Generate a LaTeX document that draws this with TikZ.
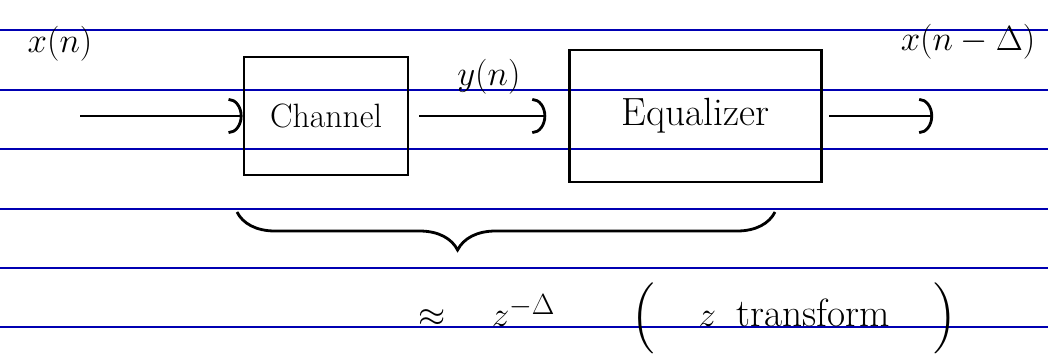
\documentclass[tikz,border=0pt]{standalone}
\usepackage{amsmath,amssymb}
\usetikzlibrary{arrows.meta,positioning,decorations.pathreplacing}
\begin{document}
\begin{tikzpicture}[x=0.025cm, y=-0.025cm, font=\fontsize{24}{28}\selectfont, line width=2pt]
\tikzstyle{box}=[draw, inner sep=3mm, align=center]
\tikzstyle{rule}=[draw=blue!70!black, line width=1.3pt]
\tikzstyle{flow}=[-{Arc Barb[length=3.5mm, width=9mm]}]
\useasboundingbox (0,0) rectangle (1048,356);
% ruled paper
\foreach \y in {30,90,149,209,268,327} \draw[rule] (0,\y) -- (1048,\y);
\node[box, minimum width=4.1cm, minimum height=2.95cm] (channel) at (326,116) {\fontsize{24}{28}\selectfont Channel};
\node[box, minimum width=6.3cm, minimum height=3.3cm, right=3.97cm of channel] (equalizer) {\fontsize{28}{32}\selectfont Equalizer};
\coordinate (in) at (80,116);
\coordinate[right=2.75cm of equalizer] (out);
\node[font=\fontsize{30}{34}\selectfont] (xn) at (60,44) {$x(n)$};
\node[font=\fontsize{26}{30}\selectfont] (xd) at (968,42) {$x(n-\Delta)$};
\draw[flow] (in) -- (channel);
\draw[flow, shorten <=2.5mm, shorten >=5.5mm] (channel) -- node[above=4mm, font=\fontsize{28}{32}\selectfont] (yn) {$y(n)$} (equalizer);
\draw[flow, shorten <=1.5mm] (equalizer) -- (out);
% overall response
\coordinate (bl) at (237,212);
\coordinate (br) at (775,212);
\draw[decorate, decoration={brace, mirror, amplitude=0.95cm, aspect=0.41}] (bl) -- (br);
\node[font=\fontsize{28}{32}\selectfont] (zt) at (688,318) {$\approx\hspace{0.9cm}z^{-\Delta}\hspace{1.9cm}\Big(\hspace{1.1cm}z\hspace{0.5cm}\text{transform}\hspace{1.1cm}\Big)$};
\end{tikzpicture}
\end{document}
